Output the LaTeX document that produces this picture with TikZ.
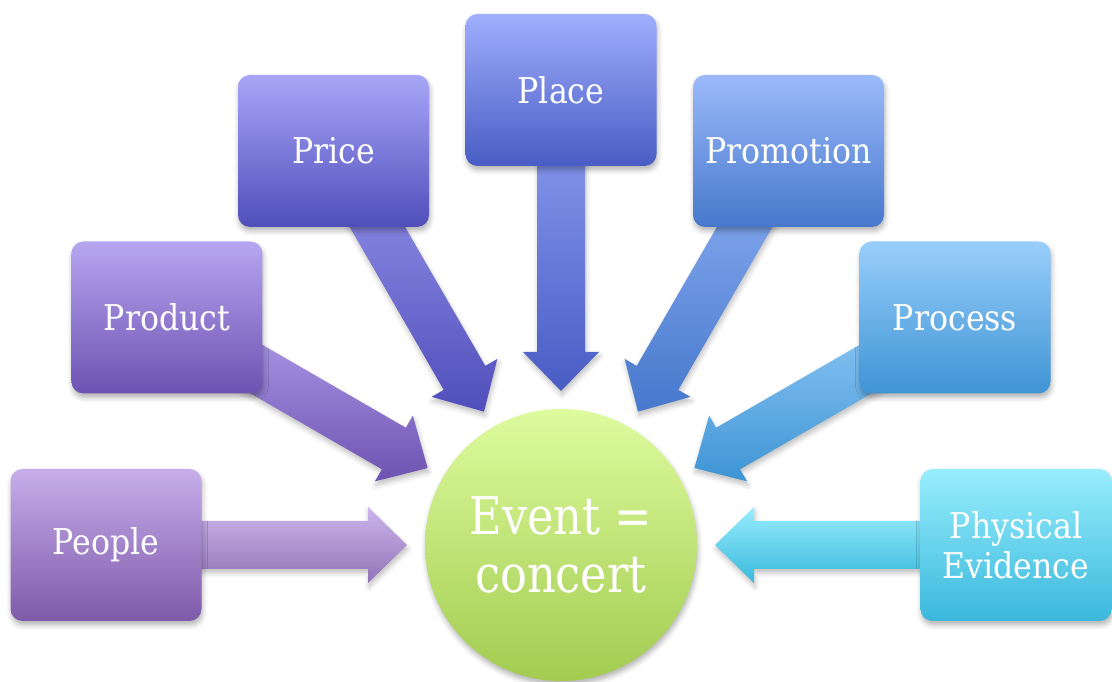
\documentclass[tikz,border=0pt]{standalone}
\usepackage{fontspec}
\newfontfamily\dvs[FakeStretch=0.89]{DejaVu Serif}
\newfontfamily\dvc[FakeStretch=0.86]{DejaVu Serif}
\usetikzlibrary{calc,shadows.blur}
\pgfdeclarelayer{bg}
\pgfsetlayers{bg,main}
\definecolor{peopleT}{RGB}{198,174,234}\definecolor{peopleB}{RGB}{126,90,170}
\definecolor{productT}{RGB}{182,166,240}\definecolor{productB}{RGB}{110,82,178}
\definecolor{priceT}{RGB}{168,166,248}\definecolor{priceB}{RGB}{80,78,186}
\definecolor{placeT}{RGB}{160,174,253}\definecolor{placeB}{RGB}{72,92,196}
\definecolor{promoT}{RGB}{156,186,251}\definecolor{promoB}{RGB}{70,120,204}
\definecolor{procT}{RGB}{152,206,251}\definecolor{procB}{RGB}{62,148,212}
\definecolor{physT}{RGB}{152,238,253}\definecolor{physB}{RGB}{58,184,220}
\definecolor{circT}{RGB}{222,251,158}\definecolor{circB}{RGB}{162,204,80}
\tikzset{
  pbox/.style={rounded corners=12pt, minimum width=191pt, minimum height=152pt,
    inner sep=0pt, align=center, text=white,
    font=\dvs\fontsize{35.5}{40}\selectfont,
    blur shadow={shadow xshift=1pt, shadow yshift=-4pt, shadow blur radius=5pt, shadow opacity=30}},
  barrow/.style={blur shadow={shadow xshift=1pt, shadow yshift=-4pt, shadow blur radius=5pt, shadow opacity=25}},
}
\newcommand\blockarrow[4]{%
  \coordinate (#2-hb) at ($(#2)!39pt!(#1)$);
  \path[barrow, top color=#3, bottom color=#4]
    ($(#1)!24pt!90:(#2)$) -- ($(#2-hb)!24pt!90:(#2)$) -- ($(#2-hb)!38pt!90:(#2)$)
    -- (#2) -- ($(#2-hb)!38pt!-90:(#2)$) -- ($(#2-hb)!24pt!-90:(#2)$)
    -- ($(#1)!24pt!-90:(#2)$) -- cycle;
}
\begin{document}
\begin{tikzpicture}[x=1pt,y=1pt]
\useasboundingbox (0,0) rectangle (1112,682);
\coordinate (c) at (561,137);
% boxes
\node[pbox, top color=peopleT, bottom color=peopleB] (people) at ($(c)+(180:455)$) {People};
\node[pbox, top color=productT, bottom color=productB] (product) at ($(c)+(150:455)$) {Product};
\node[pbox, top color=priceT, bottom color=priceB] (price) at ($(c)+(120:455)$) {Price};
\node[pbox, top color=placeT, bottom color=placeB] (place) at ($(c)+(90:455)$) {Place};
\node[pbox, top color=promoT, bottom color=promoB] (promo) at ($(c)+(60:455)$) {Promotion};
\node[pbox, top color=procT, bottom color=procB] (process) at ($(c)+(30:455)$) {Process};
\node[pbox, top color=physT, bottom color=physB] (phys) at ($(c)+(0:455)$) {Physical\\Evidence};
% circle
\node[circle, minimum size=272pt, inner sep=0pt, top color=circT, bottom color=circB,
  align=center, text=white, font=\dvc\fontsize{52}{58}\selectfont,
  blur shadow={shadow xshift=1pt, shadow yshift=-4pt, shadow blur radius=5pt, shadow opacity=30}]
  (event) at (c) {Event =\\concert};
% tips
\coordinate (t1) at ($(c)+(180:154)$);
\coordinate (t2) at ($(c)+(150:154)$);
\coordinate (t3) at ($(c)+(120:154)$);
\coordinate (t4) at ($(c)+(90:154)$);
\coordinate (t5) at ($(c)+(60:154)$);
\coordinate (t6) at ($(c)+(30:154)$);
\coordinate (t7) at ($(c)+(0:154)$);
\begin{pgfonlayer}{bg}
\blockarrow{people}{t1}{peopleT!90!white}{peopleB!85!white}
\blockarrow{product}{t2}{productT}{productB}
\blockarrow{price}{t3}{priceT!85!priceB}{priceB}
\blockarrow{place}{t4}{placeT!85!placeB}{placeB}
\blockarrow{promo}{t5}{promoT!90!promoB}{promoB}
\blockarrow{process}{t6}{procT}{procB}
\blockarrow{phys}{t7}{physT}{physB}
\end{pgfonlayer}
\end{tikzpicture}
\end{document}
